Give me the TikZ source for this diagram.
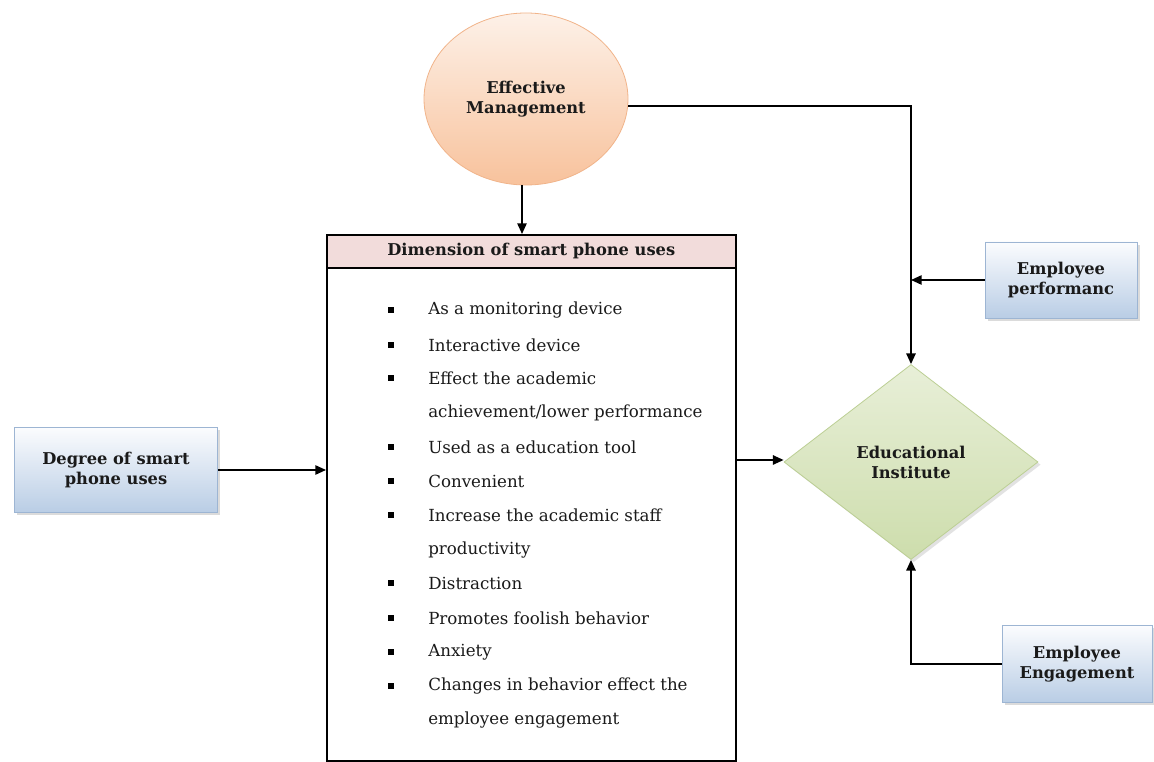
\documentclass[tikz,border=0pt]{standalone}
\usepackage{fontspec}
\setmainfont{DejaVu Serif}
\usetikzlibrary{shapes.geometric,arrows.meta,shadows}
\definecolor{txt}{HTML}{1A1A1A}
\definecolor{peachtop}{HTML}{FDF1E8}
\definecolor{peachbot}{HTML}{F8C29C}
\definecolor{peachline}{HTML}{F1B48A}
\definecolor{bluetop}{HTML}{FBFCFE}
\definecolor{bluebot}{HTML}{B9CDE5}
\definecolor{blueline}{HTML}{9DB5D3}
\definecolor{greentop}{HTML}{E8EFD8}
\definecolor{greenbot}{HTML}{CDDDAC}
\definecolor{greenline}{HTML}{BCCF94}
\definecolor{hdrpink}{HTML}{F2DCDB}
\tikzset{
  arr/.style={line width=1.2pt, draw=black, -{Triangle[length=8pt,width=7pt]}},
  lbl/.style={font=\bfseries\fontsize{12.2pt}{15pt}\selectfont, text=txt, align=center},
  bluebox/.style={rectangle, draw=blueline, line width=0.6pt, top color=bluetop, bottom color=bluebot,
    drop shadow={shadow xshift=2pt, shadow yshift=-2pt, fill=gray!55}, lbl},
  item/.style={anchor=west, font=\fontsize{12.5pt}{14pt}\selectfont, text=txt, inner sep=0pt},
  bul/.style={rectangle, fill=black, minimum size=4.2pt, inner sep=0pt},
}
\begin{document}
\begin{tikzpicture}[x=0.75pt,y=-0.75pt]
\useasboundingbox (0,0) rectangle (1154,762);
\fill[white] (0,0) rectangle (1154,762);

% Effective Management ellipse
\node[ellipse, draw=peachline, line width=0.6pt, top color=peachtop, bottom color=peachbot,
  minimum width=153pt, minimum height=129pt, inner sep=0pt, lbl] (em) at (526,99) {Effective\\Management};

% main box
\node[rectangle, draw=black, line width=1.2pt, minimum width=306.75pt, minimum height=394.5pt,
  anchor=north west, inner sep=0pt] (box) at (326,234) {};
\node[rectangle, draw=black, line width=1.2pt, fill=hdrpink, minimum width=306.75pt, minimum height=24.75pt,
  anchor=north west, inner sep=0pt, font=\bfseries\fontsize{12.2pt}{14pt}\selectfont, text=txt] (hdr) at (326,234) {Dimension of smart phone uses};

% list
\foreach \y/\t [count=\i] in {310/As a monitoring device, 345/Interactive device, 378/Effect the academic,
  447/Used as a education tool, 481/Convenient, 515/Increase the academic staff,
  583/Distraction, 618/Promotes foolish behavior, 652/Anxiety, 686/Changes in behavior effect the}
  {\node[bul] (b\i) at (391,\y) {}; \node[item] (t\i) at (428,\y) {\t};}
\node[item] (c1) at (428,413) {achievement/lower performance};
\node[item] (c2) at (428,550) {productivity};
\node[item] (c3) at (428,720) {employee engagement};

% blue boxes
\node[bluebox, minimum width=152.25pt, minimum height=63.75pt] (deg) at (116,470) {Degree of smart\\phone uses};
\node[bluebox, minimum width=114pt, minimum height=57pt] (perf) at (1061,280) {Employee\\performanc};
\node[bluebox, minimum width=112.5pt, minimum height=57.75pt] (eng) at (1077,664) {Employee\\Engagement};

% diamond
\node[diamond, draw=greenline, line width=0.6pt, top color=greentop, bottom color=greenbot,
  drop shadow={shadow xshift=2pt, shadow yshift=-2pt, fill=gray!45},
  minimum width=190.5pt, minimum height=146.25pt, inner sep=0pt, lbl] (dia) at (911,462) {Educational\\Institute};

% connectors
\draw[arr] (em.south -| 522,0) -- (522,0 |- hdr.north);
\draw[arr] (em.-4.5) -| (dia.north);
\draw[arr] (deg.east) -- (deg.east -| box.west);
\draw[arr] (box.east |- 0,460) -- (dia.west |- 0,460);
\draw[arr] (perf.west) -- (perf.west -| dia.north);
\draw[arr] (eng.west) -| (dia.south);
\end{tikzpicture}
\end{document}
